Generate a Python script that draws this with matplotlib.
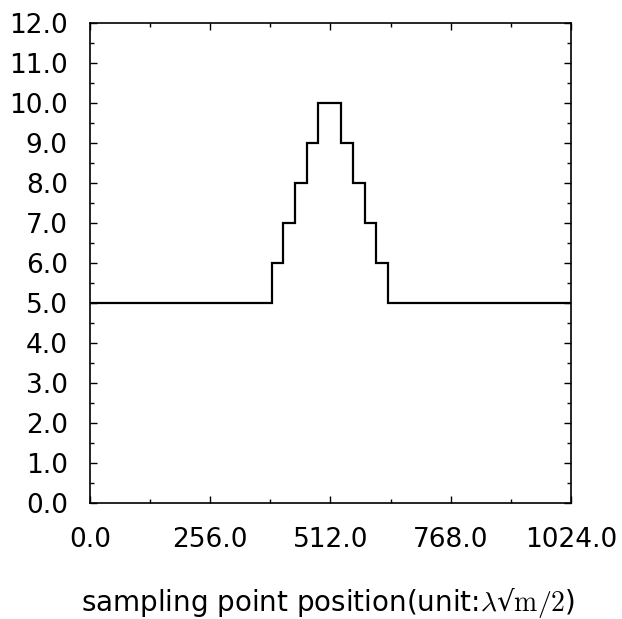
import matplotlib
matplotlib.use("Agg")
import matplotlib.pyplot as plt
from matplotlib.ticker import MultipleLocator, FormatStrFormatter

# step edges (sampling point position) and levels
edges = [0, 387, 411, 436, 461, 486, 535, 560, 585, 609, 634, 1024]
levels = [5.0, 6.0, 7.0, 8.0, 9.0, 10.0, 9.0, 8.0, 7.0, 6.0, 5.0]
x_ticks = [0.0, 256.0, 512.0, 768.0, 1024.0]
y_ticks = [0.0, 1.0, 2.0, 3.0, 4.0, 5.0, 6.0, 7.0, 8.0, 9.0, 10.0, 11.0, 12.0]


def main():
    plt.rcParams["font.family"] = ["DejaVu Sans"]
    plt.rcParams["mathtext.fontset"] = "cm"
    fig = plt.figure(figsize=(6.22, 6.19), dpi=100)
    ax = fig.add_axes([0.1447, 0.1874, 0.7733, 0.7754])

    ax.stairs(levels, edges, color="black", linewidth=1.6, baseline=None)

    ax.set_xlim(0, 1024)
    ax.set_ylim(0, 12)
    ax.set_xticks(x_ticks)
    ax.set_yticks(y_ticks)
    ax.xaxis.set_minor_locator(MultipleLocator(128))
    ax.yaxis.set_minor_locator(MultipleLocator(0.5))
    ax.xaxis.set_major_formatter(FormatStrFormatter("%.1f"))
    ax.yaxis.set_major_formatter(FormatStrFormatter("%.1f"))

    ax.tick_params(which="both", direction="in", top=True, right=True,
                   width=1, color="black")
    ax.tick_params(which="major", length=5, labelsize=19)
    ax.tick_params(which="minor", length=3)
    ax.tick_params(axis="x", which="major", pad=17)
    ax.tick_params(axis="y", which="major", pad=16)
    for s in ax.spines.values():
        s.set_linewidth(1.2)

    ax.set_xlabel("sampling point position(unit:$\\lambda$√$\\mathrm{m}/2$)",
                  fontsize=20)
    ax.xaxis.set_label_coords(0.495, -0.172)

    fig.savefig("out.png", dpi=100)


if __name__ == "__main__":
    main()
